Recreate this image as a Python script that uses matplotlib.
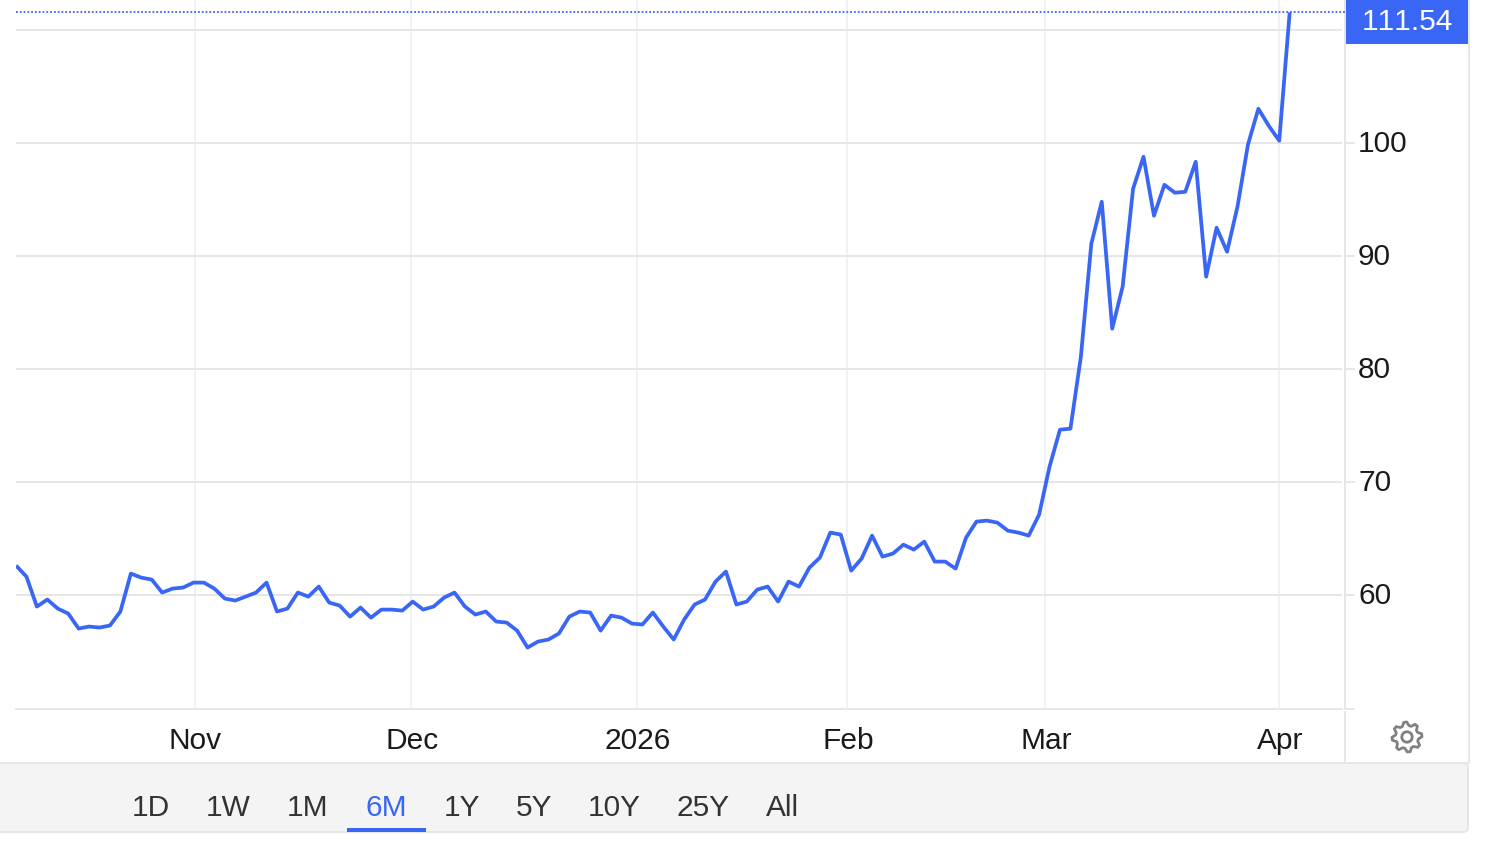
import matplotlib
matplotlib.use('Agg')
import matplotlib.pyplot as plt
from matplotlib.patches import Rectangle, FancyBboxPatch, Polygon, Circle
import numpy as np

plt.rcParams['font.family'] = ['Liberation Sans', 'DejaVu Sans']
plt.rcParams['text.kerning_factor'] = 6

prices = [62.57, 61.59, 58.94, 59.56, 58.76, 58.32, 56.99, 57.17, 57.08, 57.26,
          58.50, 61.86, 61.50, 61.33, 60.18, 60.53, 60.62, 61.06, 61.06, 60.53,
          59.65, 59.47, 59.82, 60.18, 61.06, 58.50, 58.76, 60.18, 59.82, 60.71,
          59.29, 59.03, 58.05, 58.85, 57.96, 58.67, 58.67, 58.58, 59.38, 58.67,
          58.94, 59.73, 60.18, 58.94, 58.23, 58.50, 57.61, 57.52, 56.81, 55.31,
          55.84, 56.02, 56.55, 58.05, 58.50, 58.41, 56.81, 58.14, 57.96, 57.43,
          57.35, 58.41, 57.17, 56.02, 57.79, 59.12, 59.56, 61.15, 62.04, 59.12,
          59.38, 60.44, 60.71, 59.38, 61.15, 60.71, 62.39, 63.27, 65.49, 65.31,
          62.12, 63.19, 65.22, 63.36, 63.63, 64.42, 63.98, 64.69, 62.92, 62.92,
          62.30, 65.04, 66.46, 66.55, 66.37, 65.66, 65.49, 65.22, 67.08, 71.33,
          74.60, 74.69, 81.06, 91.06, 94.78, 83.54, 87.26, 95.93, 98.76, 93.54,
          96.28, 95.58, 95.66, 98.32, 88.14, 92.48, 90.35, 94.34, 99.82, 103.01,
          101.50, 100.18, 111.54]
month_labels = ['Nov', 'Dec', '2026', 'Feb', 'Mar', 'Apr']
month_pos = [17.1, 37.8, 59.5, 79.6, 98.6, 121.0]
y_ticks = [60, 70, 80, 90, 100, 110]
y_labels = ['60', '70', '80', '90', '100']
ranges = ['1D', '1W', '1M', '6M', '1Y', '5Y', '10Y', '25Y', 'All']
range_x = [151, 228, 308, 386, 462, 534, 614, 703, 782]

BLUE = '#3a66f5'
GRID = '#e6e6e8'
VGRID = '#eef1f5'
W, H = 1500, 844
FS = 21.5

fig = plt.figure(figsize=(15, 8.44), dpi=100, facecolor='white')

# page furniture, in pixels
bg = fig.add_axes([0, 0, 1, 1])
bg.set_xlim(0, W)
bg.set_ylim(H, 0)
bg.axis('off')
bg.add_patch(FancyBboxPatch((-20, 763), 1488, 69, boxstyle='round,pad=0,rounding_size=5',
                            fc='#f4f4f5', ec=GRID, lw=1.4))
bg.plot([0, 1468], [763, 763], color=GRID, lw=1.4)
bg.plot([1468.5, 1468.5], [0, 763], color=GRID, lw=1.4)
bg.plot([1345, 1345], [0, 709], color=GRID, lw=1.4)
bg.plot([1345, 1345], [712, 763], color=GRID, lw=1.4)

# main chart
left, right, top, bottom = 16, 1342, 0, 709
ax = fig.add_axes([left / W, 1 - bottom / H, (right - left) / W, (bottom - top) / H])
ax.patch.set_alpha(0)
ax.set_xlim(0, (right - left) / 10.44)
ax.set_ylim(49.87, 112.64)
for s in ax.spines.values():
    s.set_visible(False)
ax.set_xticks(month_pos)
ax.set_xticklabels([])
ax.set_yticks(y_ticks)
ax.set_yticklabels([])
ax.tick_params(length=0)
ax.grid(axis='y', color=GRID, lw=1.4, zorder=1)
ax.grid(axis='x', color=VGRID, lw=1.4, zorder=1)
ax.axhline(49.87, color=GRID, lw=1.4, clip_on=False, zorder=1)
ax.axhline(prices[-1], xmax=1.003, color=BLUE, lw=1.3, ls=(0, (1, 1.1)), zorder=2, clip_on=False)
ax.plot(range(len(prices)), prices, color=BLUE, lw=2.7, zorder=3,
        solid_joinstyle='round', solid_capstyle='butt')

for v, lab in zip(y_ticks, y_labels):
    ypx = H - ax.transData.transform((0, v))[1]
    bg.plot([1346, 1354], [ypx, ypx], color=GRID, lw=1.4)
    bg.text(1358, ypx - 1.5, lab, fontsize=FS, color='#1a1a1a', ha='left', va='center_baseline')
bg.plot([1346, 1354], [709, 709], color=GRID, lw=1.4)

for p, lab in zip(month_pos, month_labels):
    xpx = ax.transData.transform((p, 60))[0]
    bg.text(xpx + 1, 738, lab, fontsize=FS, color='#1a1a1a', ha='center', va='center_baseline')

# last price flag
bg.add_patch(Rectangle((1346, 0), 122, 44, fc=BLUE, ec='none', zorder=5))
bg.text(1407, 18.5, '%.2f' % prices[-1], fontsize=FS, color='white',
        ha='center', va='center_baseline', zorder=6)

# range selector
for xp, lab in zip(range_x, ranges):
    col = BLUE if lab == '6M' else '#333333'
    bg.text(xp, 805, lab, fontsize=FS, color=col, ha='center', va='center_baseline')
bg.add_patch(Rectangle((347, 828), 79, 4, fc=BLUE, ec='none'))

# settings gear
n_teeth = 8
ang = np.linspace(0, 2 * np.pi, n_teeth * 4, endpoint=False) + np.pi / 2 - np.pi / 8 * 0.55
rad = np.tile([15, 15, 11.5, 11.5], n_teeth)
gx = 1407 + rad * np.cos(ang)
gy = 737 + rad * np.sin(ang)
bg.add_patch(Polygon(np.column_stack([gx, gy]), closed=True, fc='none', ec='#808080', lw=2.0,
                     joinstyle='round'))
bg.add_patch(Circle((1407, 737), 5.2, fc='none', ec='#808080', lw=2.0))

plt.savefig('out.png', dpi=100)
